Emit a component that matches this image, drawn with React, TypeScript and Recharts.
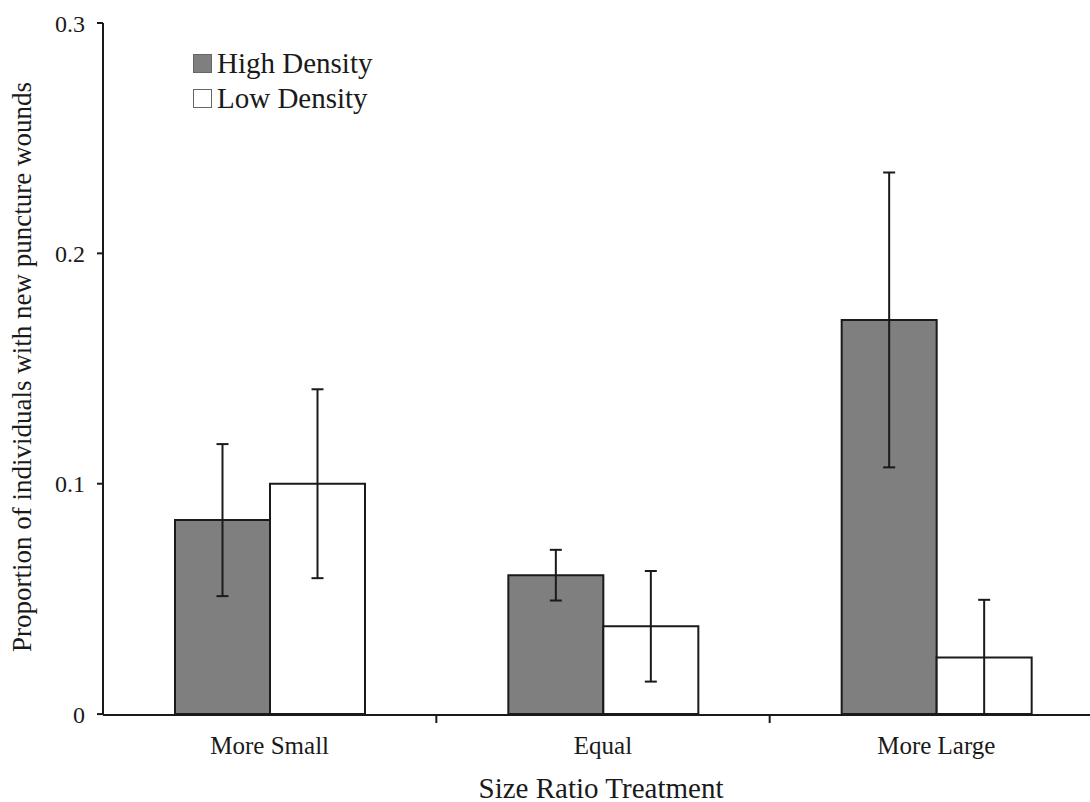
import React from 'react';
import { BarChart, Bar, XAxis, YAxis, ErrorBar } from 'recharts';

const CATEGORIES = ['More Small', 'Equal', 'More Large'];
const HIGH_DENSITY = [0.0842, 0.0603, 0.1711];
const HIGH_ERR = [0.033, 0.011, 0.064];
const LOW_DENSITY = [0.1, 0.0381, 0.0246];
const LOW_ERR = [0.041, 0.024, 0.025];
const Y_TICKS = [0, 0.1, 0.2, 0.3];
const SERIES = [
  { name: 'High Density', fill: '#7f7f7f' },
  { name: 'Low Density', fill: '#ffffff' },
];

const FONT = '"Liberation Serif", "DejaVu Serif", serif';
const INK = '#1a1a1a';
const X_TICK_SIZE = 6;
const X_TICK_MARGIN = 15;

const data = CATEGORIES.map((name, i) => ({
  name,
  high: HIGH_DENSITY[i],
  highErr: HIGH_ERR[i],
  low: LOW_DENSITY[i],
  lowErr: LOW_ERR[i],
}));

const textStyle: React.CSSProperties = {
  position: 'absolute',
  whiteSpace: 'nowrap',
  fontFamily: FONT,
  color: INK,
};

// category label plus an Excel-style tick mark on the boundary between groups
const CategoryTick = (props: any) => {
  const { x, y, payload, index } = props;
  const half = payload.offset ?? 0;
  const axisY = y - X_TICK_SIZE - X_TICK_MARGIN;
  return (
    <g>
      <text x={x} y={y} dy="0.71em" textAnchor="middle" fontFamily={FONT} fontSize={25} fill={INK}>
        {payload.value}
      </text>
      {index < CATEGORIES.length - 1 && (
        <line x1={x + half} x2={x + half} y1={axisY} y2={axisY + 8} stroke={INK} strokeWidth={2} />
      )}
    </g>
  );
};

export default function App() {
  return (
    <div style={{ position: 'absolute', left: 0, top: 0, width: 1090, height: 802, overflow: 'hidden', background: '#fff' }}>
      <BarChart
        width={1110}
        height={802}
        data={data}
        margin={{ top: 23, right: 7, left: 0, bottom: 57 }}
        barGap={0}
        barSize={95}
      >
        <XAxis
          dataKey="name"
          height={30}
          axisLine={{ stroke: INK, strokeWidth: 2 }}
          tickLine={false}
          tickSize={X_TICK_SIZE}
          tickMargin={X_TICK_MARGIN}
          tick={<CategoryTick />}
        />
        <YAxis
          width={103}
          domain={[0, 0.3]}
          ticks={Y_TICKS}
          tickFormatter={(v) => (v === 0 ? '0' : v.toFixed(1))}
          axisLine={{ stroke: INK, strokeWidth: 2 }}
          tickLine={{ stroke: INK, strokeWidth: 2 }}
          tickSize={6}
          tick={{ fontFamily: FONT, fontSize: 24, fill: INK }}
          tickMargin={12}
        />
        <Bar dataKey="high" name={SERIES[0].name} fill={SERIES[0].fill} stroke={INK} strokeWidth={2} isAnimationActive={false}>
          <ErrorBar dataKey="highErr" width={6} stroke={INK} strokeWidth={2} />
        </Bar>
        <Bar dataKey="low" name={SERIES[1].name} fill={SERIES[1].fill} stroke={INK} strokeWidth={2} isAnimationActive={false}>
          <ErrorBar dataKey="lowErr" width={6} stroke={INK} strokeWidth={2} />
        </Bar>
      </BarChart>

      {SERIES.map((s, i) => (
        <div key={s.name} style={{ ...textStyle, left: 193, top: 46 + i * 35, fontSize: 29, lineHeight: '34px', display: 'flex', alignItems: 'center' }}>
          <span style={{ width: 17, height: 17, background: s.fill, border: '1px solid #666', marginRight: 5 }} />
          {s.name}
        </div>
      ))}

      <div style={{ ...textStyle, left: 22, top: 367, fontSize: 27, lineHeight: '30px', transform: 'translate(-50%, -50%) rotate(-90deg)' }}>
        Proportion of individuals with new puncture wounds
      </div>
      <div style={{ ...textStyle, left: 601, top: 788, fontSize: 29, lineHeight: '29px', transform: 'translate(-50%, -50%)' }}>
        Size Ratio Treatment
      </div>
    </div>
  );
}
